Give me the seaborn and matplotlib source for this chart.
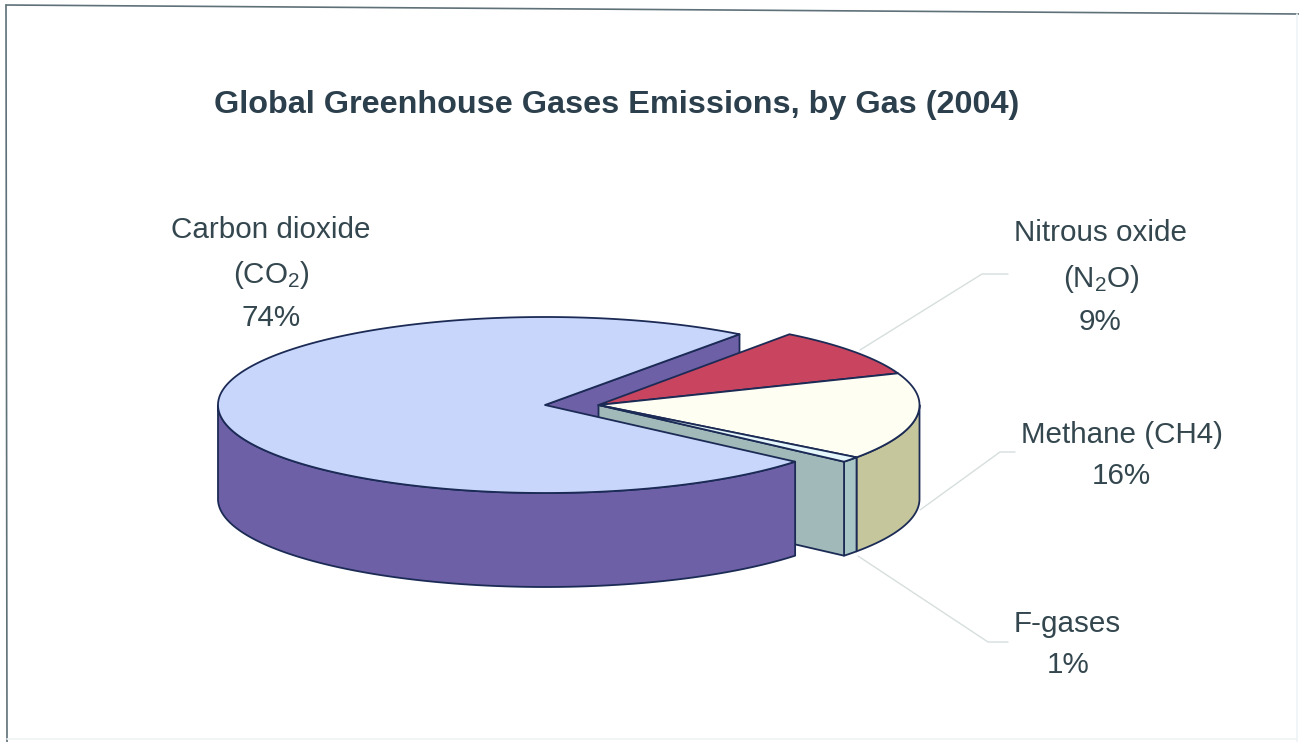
import numpy as np
import matplotlib
matplotlib.use("Agg")
import matplotlib.pyplot as plt
from matplotlib.patches import Polygon
import seaborn as sns

# ---- data ----
gases = ["Carbon dioxide", "F-gases", "Methane", "Nitrous oxide"]
shares = [74, 1, 16, 9]
top_colors = ["#C9D6FB", "#E6F7FC", "#FFFEF3", "#C9455F"]
rim_colors = ["#6E60A6", "#A9C6C6", "#C5C69C", "#8A2F45"]
cut_color = "#A1B9B8"
title = "Global Greenhouse Gases Emissions, by Gas (2004)"

sns.set_theme(style="white")
plt.rcParams["font.family"] = ["Liberation Sans", "DejaVu Sans"]
plt.rcParams["mathtext.fontset"] = "custom"
plt.rcParams["mathtext.rm"] = "Liberation Sans"
plt.rcParams["mathtext.default"] = "regular"

W, H = 1299, 742
fig = plt.figure(figsize=(W / 100, H / 100), dpi=100, facecolor="white")
ax = fig.add_axes([0, 0, 1, 1])
ax.set_xlim(0, W)
ax.set_ylim(H, 0)
ax.axis("off")

EDGE = "#1B2B55"
TXT = "#34474F"
START = 53.5
RX, RY, DEPTH = 327.0, 88.0, 94.0
C_MAIN = (545.0, 405.0)
C_OUT = (598.5, 405.0)
RX_OUT = 321.0

# slice angles, derived from shares (counter-clockwise from START)
frac = np.array(shares, dtype=float) / sum(shares)
bounds = START + 360 * np.concatenate([[0], np.cumsum(frac)])
spans = list(zip(bounds[:-1], bounds[1:]))


def arc(c, rx, a0, a1, dy=0.0):
    t = np.radians(np.linspace(a0, a1, max(int(abs(a1 - a0)) * 2, 2) + 1))
    return np.column_stack([c[0] + rx * np.cos(t), c[1] - RY * np.sin(t) + dy])


def poly(pts, fc, lw=1.3, z=1):
    ax.add_patch(Polygon(pts, closed=True, facecolor=fc, edgecolor=EDGE, lw=lw,
                         joinstyle="round", zorder=z))


def top(c, rx, a0, a1, fc, z):
    poly(np.vstack([[c], arc(c, rx, a0, a1)]), fc, z=z)


def rim(c, rx, a0, a1, fc, z):
    # outer wall: only the front half of the ellipse (180-360 deg) shows
    lo, hi = max(a0, 180.0), min(a1, 360.0)
    if hi <= lo:
        return
    poly(np.vstack([arc(c, rx, lo, hi), arc(c, rx, hi, lo, DEPTH)]), fc, z=z)


def cut(c, rx, a, fc, z):
    p = arc(c, rx, a, a)[0]
    poly([c, p, (p[0], p[1] + DEPTH), (c[0], c[1] + DEPTH)], fc, z=z)


(co2_a0, co2_a1), (f_a0, f_a1), (m_a0, m_a1), (n_a0, n_a1) = spans

# main slice's back cut face
cut(C_MAIN, RX, co2_a0, rim_colors[0], 1)
# exploded group
rim(C_OUT, RX_OUT, m_a0, m_a1, rim_colors[2], 2)
rim(C_OUT, RX_OUT, f_a0, f_a1, rim_colors[1], 2)
cut(C_OUT, RX_OUT, f_a0, cut_color, 3)
top(C_OUT, RX_OUT, n_a0, n_a1, top_colors[3], 4)
top(C_OUT, RX_OUT, m_a0, m_a1, top_colors[2], 4)
top(C_OUT, RX_OUT, f_a0, f_a1, top_colors[1], 4)
# main slice on top
rim(C_MAIN, RX, co2_a0, co2_a1, rim_colors[0], 5)
top(C_MAIN, RX, co2_a0, co2_a1, top_colors[0], 6)

# frame
ax.plot([6, 7], [5, 742], color="#5E7078", lw=1.2, zorder=0)
ax.plot([6, 1299], [5, 14], color="#5E7078", lw=1.2, zorder=0)
ax.plot([1297, 1297], [14, 742], color="#EDF5F7", lw=1.2, zorder=0)
ax.plot([7, 1297], [739, 739], color="#F0F4F5", lw=1.2, zorder=0)

# leaders
lead = "#D6DFDE"
ax.plot([860, 982, 1008], [350, 274, 274], color=lead, lw=1, zorder=0)
ax.plot([920, 1000, 1015], [510, 452, 452], color=lead, lw=1, zorder=0)
ax.plot([858, 988, 1008], [556, 642, 642], color=lead, lw=1, zorder=0)

# text
FS = 21.3
ax.text(616.5, 105, title, ha="center", va="center", fontsize=23.3,
        fontweight="bold", color="#2C3F4C")
labels = [
    (271, 230, "Carbon dioxide"), (271, 275, "(CO$_2$)"), (271, 318, "74%"),
    (1101, 233, "Nitrous oxide"), (1101, 279, "(N$_2$O)"), (1100, 322, "9%"),
    (1122, 435, "Methane (CH4)"), (1121, 476, "16%"),
    (1067, 624, "F-gases"), (1068, 665, "1%"),
]
for x, y, s in labels:
    ax.text(x, y, s, ha="center", va="center", fontsize=FS, color=TXT)

fig.savefig("out.png", dpi=100, facecolor="white")
